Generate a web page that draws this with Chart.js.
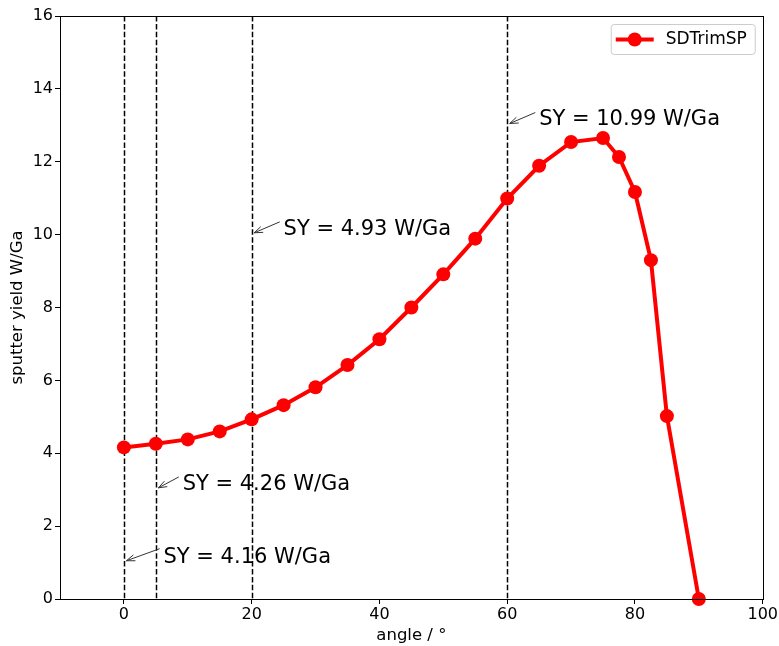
<!DOCTYPE html>
<html>
<head>
<meta charset="utf-8">
<script src="https://cdn.jsdelivr.net/npm/chart.js@4"></script>
<style>
  html, body { margin:0; padding:0; background:#fff; }
  #wrap { width:779px; height:646px; }
</style>
</head>
<body>
<div id="wrap"><canvas id="chartSY" width="779" height="646"></canvas></div>
<script>
// data
const angles = [0, 5, 10, 15, 20, 25, 30, 35, 40, 45, 50, 55, 60, 65, 70, 75, 77.5, 80, 82.5, 85, 90];
const yields = [4.16, 4.26, 4.38, 4.6, 4.93, 5.32, 5.81, 6.42, 7.13, 8.0, 8.91, 9.89, 10.99, 11.89, 12.54, 12.65, 12.13, 11.17, 9.3, 5.02, 0];
const xTicks = [0, 20, 40, 60, 80, 100];
const yTicks = [0, 2, 4, 6, 8, 10, 12, 14, 16];
const markedAngles = [0, 5, 20, 60];
const noteLabels = ['SY = 4.16 W/Ga', 'SY = 4.26 W/Ga', 'SY = 4.93 W/Ga', 'SY = 10.99 W/Ga'];
const noteText = [[6.2, 1.0], [9.2, 3.0], [25, 10.0], [65, 13.0]];   // text baseline start (data units)
const noteTip = [[0.4, 1.05], [5.4, 3.05], [20.4, 10.05], [60.4, 13.05]];
const noteTail = [[5.6, 1.38], [8.6, 3.35], [24.4, 10.35], [64.4, 13.35]];

const FONT = "'DejaVu Sans', sans-serif";

// dashed verticals, behind the curve
const vlinePlugin = {
  id: 'vlines',
  beforeDatasetsDraw(chart) {
    const { ctx, chartArea, scales } = chart;
    ctx.save();
    ctx.strokeStyle = '#000';
    ctx.lineWidth = 1.5;
    ctx.setLineDash([5.5, 2.4]);
    markedAngles.forEach(a => {
      const px = Math.round(scales.x.getPixelForValue(a)) + 0.5;
      ctx.beginPath();
      ctx.moveTo(px, chartArea.top);
      ctx.lineTo(px, chartArea.bottom);
      ctx.stroke();
    });
    ctx.restore();
  }
};

// annotations + matplotlib style legend
const notePlugin = {
  id: 'notes',
  afterDatasetsDraw(chart) {
    const { ctx, scales, chartArea } = chart;
    const X = v => scales.x.getPixelForValue(v);
    const Y = v => scales.y.getPixelForValue(v);
    ctx.save();
    noteLabels.forEach((txt, i) => {
      // arrow
      const x1 = X(noteTail[i][0]), y1 = Y(noteTail[i][1]);
      const x2 = X(noteTip[i][0]), y2 = Y(noteTip[i][1]);
      ctx.strokeStyle = '#333';
      ctx.lineWidth = 1;
      ctx.beginPath();
      ctx.moveTo(x1, y1);
      ctx.lineTo(x2, y2);
      const ang = Math.atan2(y2 - y1, x2 - x1);
      const h = 9;
      ctx.moveTo(x2 - h * Math.cos(ang - 0.35), y2 - h * Math.sin(ang - 0.35));
      ctx.lineTo(x2, y2);
      ctx.lineTo(x2 - h * Math.cos(ang + 0.35), y2 - h * Math.sin(ang + 0.35));
      ctx.stroke();
      // text
      ctx.fillStyle = '#000';
      ctx.font = '21px ' + FONT;
      ctx.textAlign = 'left';
      ctx.textBaseline = 'alphabetic';
      ctx.fillText(txt, X(noteText[i][0]), Y(noteText[i][1]));
    });

    // legend box
    const bw = 144, bh = 30;
    const bx = chartArea.right - 8 - bw, by = chartArea.top + 8;
    ctx.fillStyle = 'rgba(255,255,255,0.8)';
    ctx.strokeStyle = '#ccc';
    ctx.lineWidth = 1;
    ctx.beginPath();
    ctx.roundRect(bx + 0.5, by + 0.5, bw, bh, 3);
    ctx.fill();
    ctx.stroke();
    const ly = by + bh / 2 + 0.5;
    ctx.strokeStyle = '#ff0000';
    ctx.lineWidth = 4;
    ctx.beginPath();
    ctx.moveTo(bx + 5, ly);
    ctx.lineTo(bx + 43, ly);
    ctx.stroke();
    ctx.fillStyle = '#ff0000';
    ctx.beginPath();
    ctx.arc(bx + 24, ly, 7, 0, Math.PI * 2);
    ctx.fill();
    ctx.fillStyle = '#000';
    ctx.font = '17px ' + FONT;
    ctx.textBaseline = 'middle';
    ctx.fillText('SDTrimSP', bx + 55, ly);
    ctx.restore();
  }
};

new Chart(document.getElementById('chartSY').getContext('2d'), {
  type: 'line',
  data: {
    datasets: [{
      label: 'SDTrimSP',
      data: angles.map((a, i) => ({ x: a, y: yields[i] })),
      borderColor: '#ff0000',
      backgroundColor: '#ff0000',
      borderWidth: 4,
      pointRadius: 7,
      pointBorderWidth: 0,
      pointBackgroundColor: '#ff0000',
      tension: 0,
      clip: false
    }]
  },
  options: {
    responsive: false,
    animation: false,
    devicePixelRatio: 1,
    layout: { padding: { left: 0, right: 14, top: 16, bottom: 0 } },
    plugins: { legend: { display: false }, tooltip: { enabled: false } },
    scales: {
      x: {
        type: 'linear',
        min: -10, max: 100,
        afterBuildTicks: axis => { axis.ticks = xTicks.map(v => ({ value: v })); },
        afterFit: axis => { axis.height = 47; },
        grid: { drawOnChartArea: false, tickLength: 5, tickColor: '#000', tickWidth: 1 },
        border: { color: '#000', width: 1 },
        ticks: { color: '#000', font: { family: FONT, size: 16 }, padding: 1, maxRotation: 0 },
        title: { display: true, text: 'angle / °', color: '#000', font: { family: FONT, size: 16.5 }, padding: { top: 0, bottom: 0 } }
      },
      y: {
        min: 0, max: 16,
        afterBuildTicks: axis => { axis.ticks = yTicks.map(v => ({ value: v })); },
        afterFit: axis => { axis.width = 60; },
        grid: { drawOnChartArea: false, tickLength: 5, tickColor: '#000', tickWidth: 1 },
        border: { color: '#000', width: 1 },
        ticks: { color: '#000', font: { family: FONT, size: 16 }, padding: 2 },
        title: { display: true, text: 'sputter yield W/Ga', color: '#000', font: { family: FONT, size: 16.5 }, padding: { top: 8, bottom: 0 } }
      }
    }
  },
  plugins: [vlinePlugin, notePlugin, {
    id: 'frame',
    afterDraw(chart) {
      const { ctx, chartArea: a } = chart;
      ctx.save();
      ctx.strokeStyle = '#000';
      ctx.lineWidth = 1;
      ctx.strokeRect(Math.round(a.left) + 0.5, Math.round(a.top) + 0.5, Math.round(a.right - a.left), Math.round(a.bottom - a.top));
      ctx.restore();
    }
  }]
});
</script>
</body>
</html>
